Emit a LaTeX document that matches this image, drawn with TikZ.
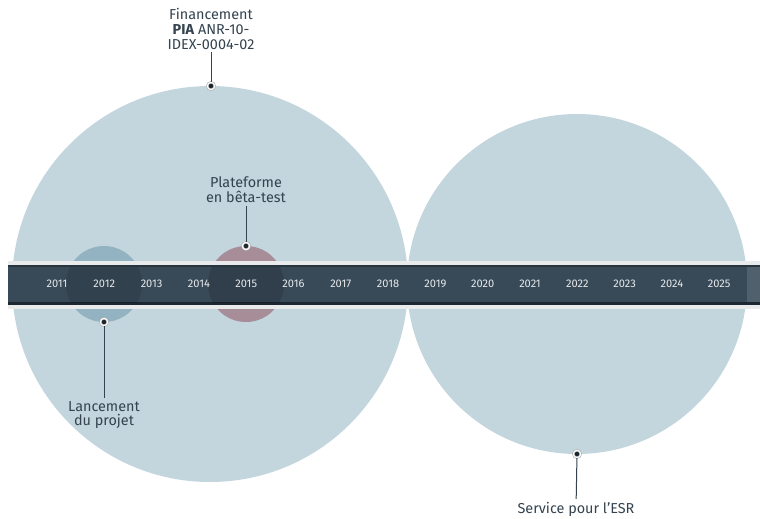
\documentclass[tikz,border=0pt]{standalone}
\usepackage{fontspec}
\setmainfont{Fira Sans}
\definecolor{disque}{HTML}{C3D5DD}
\definecolor{bleu}{HTML}{93B3C3}
\definecolor{mauve}{HTML}{A68D98}
\definecolor{bande}{HTML}{384A58}
\definecolor{bord}{HTML}{1C2731}
\definecolor{filet}{HTML}{E8EAEB}
\definecolor{texte}{HTML}{34434F}
\definecolor{point}{HTML}{1B2630}

\begin{document}
\begin{tikzpicture}[x=0.75pt,y=-0.75pt,
    annee/.style={text=white!88!bande,font=\fontsize{8.3}{9}\selectfont},
    etiquette/.style={text=texte,align=center,inner sep=2pt,font=\fontsize{10.8}{11}\selectfont},
    point/.style={circle,inner sep=0pt,minimum size=5.5pt,fill=point,draw=gray!70,double=white,double distance=0.9pt},
    lien/.style={draw=texte,line width=0.75pt}]
        \useasboundingbox (0,0) rectangle (760,518);
        % les deux periodes
        \fill [disque] (210,284) circle [radius=148.5pt];
        \fill [disque] (577,284) circle [radius=127.5pt];
        % jalons
        \fill [bleu] (104,284) circle [radius=28.5pt];
        \fill [mauve] (246,284) circle [radius=28.5pt];
        % frise
        \fill [filet] (8,261) rectangle (760,309);
        \fill [bande] (8,265) rectangle (760,305);
        \fill [white!12!bande] (747,265) rectangle (760,305);
        \fill [bord] (8,302) rectangle (760,305);
        \fill [bord!60!bande] (8,265) rectangle (760,267);
        \begin{scope}
            \clip (8,267) rectangle (760,302);
            \fill [black,opacity=.12] (104,284) circle [radius=28.5pt];
            \fill [black,opacity=.14] (246,284) circle [radius=28.5pt];
        \end{scope}
        \foreach \a in {2011,...,2025}
            \node [annee] (a\a) at ({57+(\a-2011)*47.3},284) {\a};
        % points et legendes
        \node [point] (pfin) at (211,86) {};
        \node [point] (pbeta) at (246,246) {};
        \node [point] (plan) at (104,322) {};
        \node [point] (pesr) at (577,454) {};
        \node [etiquette] (fin) at (211,29) {Financement\\\textbf{PIA} ANR-10-\\IDEX-0004-02};
        \node [etiquette] (beta) at (246,190) {Plateforme\\en bêta-test};
        \node [etiquette] (lan) at (104,415) {Lancement\\du projet};
        \node [etiquette] (esr) at (576,509) {Service pour l’ESR};
        \draw [lien] (fin) -- (pfin);
        \draw [lien] (beta) -- (pbeta);
        \draw [lien] (plan) -- (lan);
        \draw [lien] (pesr) -- (esr);
    \end{tikzpicture}
\end{document}
